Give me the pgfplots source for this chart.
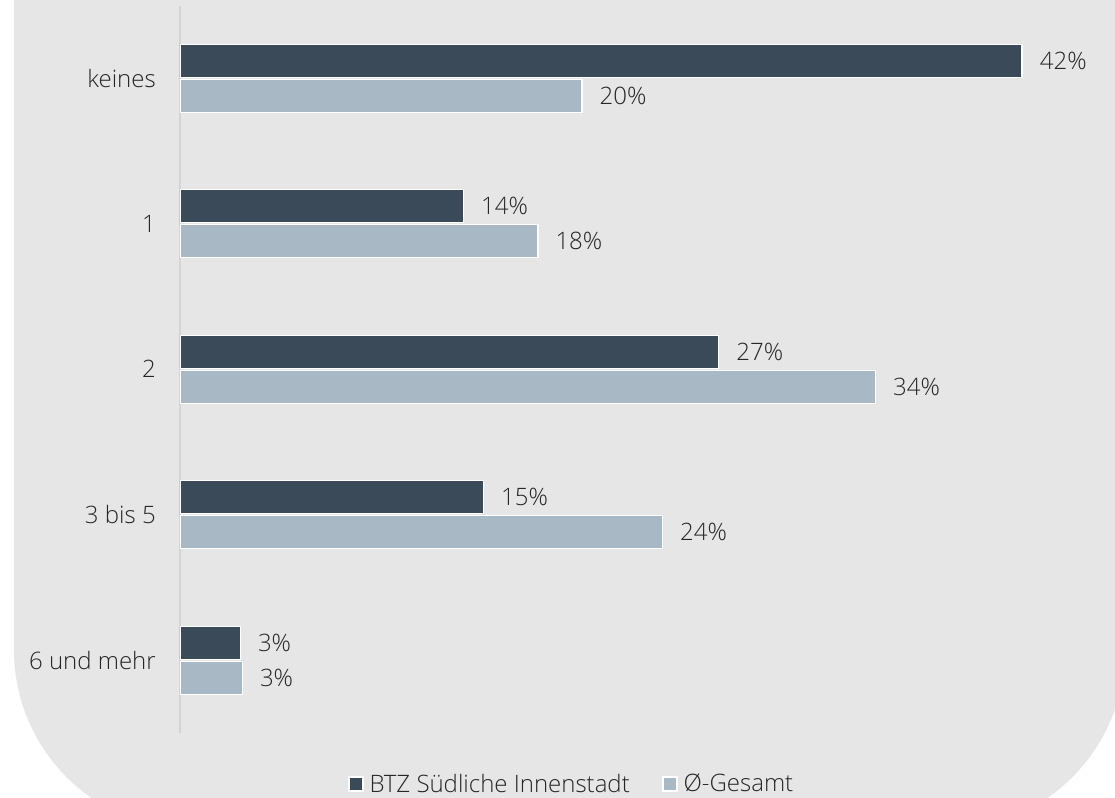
\documentclass[border=0pt]{standalone}
\usepackage{pgfplots}
\pgfplotsset{compat=1.18}
\usepackage{fontspec}
\setmainfont{Open Sans}[UprightFont=* Light]
\definecolor{bg}{HTML}{E6E6E6}
\definecolor{dark}{HTML}{3B4A58}
\definecolor{light}{HTML}{A9B8C5}
\definecolor{txt}{HTML}{262626}
\definecolor{axisgray}{HTML}{D4D4D4}

\begin{document}
\begin{tikzpicture}[font=\fontsize{18}{21}\selectfont, text=txt]
\useasboundingbox (0,0) rectangle (836.25pt,598.5pt);
\begin{scope}
  \clip (0,0) rectangle (836.25pt,598.5pt);
  \fill[bg, rounded corners=135pt] (10.5pt,700pt) -- (10.5pt,-24pt) -- (843.75pt,-24pt) -- (843.75pt,700pt);
\end{scope}
\begin{axis}[
    at={(135pt,48.75pt)}, anchor=south west,
    scale only axis, width=693.45pt, height=545.6pt,
    xbar, bar width=24.75pt,
    xmin=0, xmax=46, ymin=-0.5, ymax=4.5,
    axis x line=none, axis y line=left,
    y axis line style={-, draw=axisgray, line width=1.5pt},
    ytick={0,...,4},
    yticklabels={6 und mehr,3 bis 5,2,1,keines},
    major tick length=0pt,
    yticklabel style={inner sep=0pt, xshift=-18pt, text=txt},
    nodes near coords,
    point meta=explicit symbolic,
    nodes near coords style={anchor=west, inner sep=0pt, xshift=12.75pt, text=txt},
    legend columns=2,
    legend style={at={(0.426,0)}, anchor=center, yshift=-38.25pt,
        draw=none, fill=none, text=txt,
        nodes={inner xsep=4.5pt},
        /tikz/every even column/.append style={column sep=20pt}},
    legend image code/.code={\draw[#1, draw=white, line width=0.8pt] (0pt,-5.25pt) rectangle (10.5pt,5.25pt);},
]
\addplot[fill=dark, draw=white, line width=1.1pt, bar shift=13.125pt]
  coordinates {(41.9,4) [42\%] (14.1,3) [14\%] (26.8,2) [27\%] (15.1,1) [15\%] (3.0,0) [3\%]};
\addplot[fill=light, draw=white, line width=1.1pt, bar shift=-13.125pt]
  coordinates {(20.0,4) [20\%] (17.8,3) [18\%] (34.6,2) [34\%] (24.0,1) [24\%] (3.1,0) [3\%]};
\legend{BTZ Südliche Innenstadt, Ø-Gesamt}
\end{axis}
\end{tikzpicture}
\end{document}
